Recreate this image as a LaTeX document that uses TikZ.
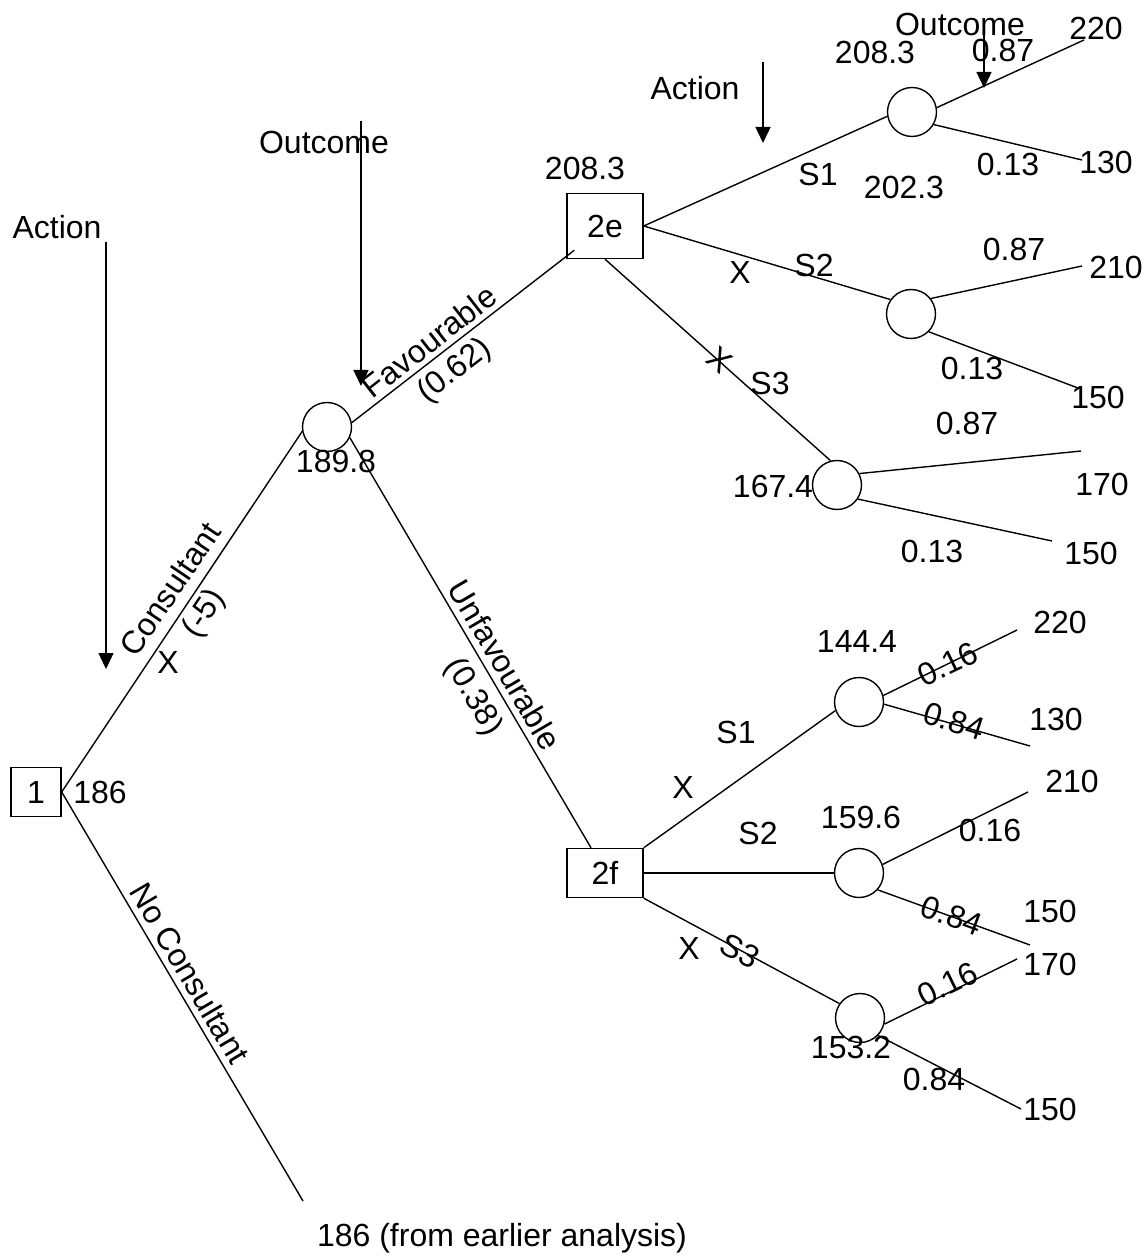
\documentclass[tikz,border=0pt]{standalone}
\usepackage{fontspec}
\setmainfont{Liberation Sans}
\usepackage{tikz}
\usetikzlibrary{calc, shapes}
\usetikzlibrary{positioning,arrows.meta}

\tikzset{
	decbox/.style={draw, rectangle, inner sep=0pt, minimum width=38pt},
	chance/.style={draw, circle, inner sep=0pt, minimum size=24.5pt},
	lbl/.style={inner sep=0pt},
	pointer/.style={-{Triangle[length=8pt,width=7.5pt]}},
}

\begin{document}
\begin{tikzpicture}[x=0.5pt, y=-0.5pt, line width=0.7pt,
	font=\fontsize{16}{19}\selectfont]
\useasboundingbox (0,0) rectangle (1145,1256);

% decision and chance nodes
\node[decbox, minimum width=25pt, minimum height=24.5pt] (d1) at (36,792) {1};
\node[chance] (c0) at (327,427) {};
\node[decbox, minimum height=32.5pt] (d2e) at (605,226) {2e};
\node[decbox, minimum height=24.5pt] (d2f) at (605,873) {2f};
\node[chance] (s1) at (912,112) {};
\node[chance] (s2) at (911,314) {};
\node[chance] (s3) at (837,485) {};
\node[chance] (u1) at (859,702) {};
\node[chance] (u2) at (859,873) {};
\node[chance] (u3) at (860,1018) {};

% free ends
\coordinate (nc) at (303,1201);
\coordinate (s1a) at (1084,40);
\coordinate (s1b) at (1082,160);
\coordinate (s2a) at (1082,266);
\coordinate (s2b) at (1078,388);
\coordinate (s3a) at (1081,451);
\coordinate (s3b) at (1052,541);
\coordinate (u1a) at (1017,630);
\coordinate (u1b) at (1030,746);
\coordinate (u2a) at (1028,792);
\coordinate (u2b) at (1030,945);
\coordinate (u3a) at (1017,959);
\coordinate (u3b) at (1021,1109);

% stage markers
\node[lbl] (act1) at (57,227) {Action};
\node[lbl] (out1) at (324,142) {Outcome};
\node[lbl] (act2) at (695,88) {Action};
\node[lbl] (out2) at (960,24) {Outcome};
\coordinate (act1a) at (106,242);
\coordinate (act1b) at (106,669);
\coordinate (out1a) at (361,121);
\coordinate (out1b) at (361,386);
\coordinate (act2a) at (763,62);
\coordinate (act2b) at (763,143);
\coordinate (out2a) at (984,25);
\coordinate (out2b) at (984,88);
\draw[pointer] (act1a) -- (act1b);
\draw[pointer] (out1a) -- (out1b);
\draw[pointer] (act2a) -- (act2b);
\draw[pointer] (out2a) -- (out2b);

% first stage
\draw (d1.east) -- (c0.190);
\draw (d1.east) -- (nc);
\draw (c0.10) -- ($(d2e.south west)+(8,-9)$);
\draw (c0.-25) -- ([xshift=-7pt]d2f.north);

\node[lbl] at (100,792) {186};
\node[lbl] at (336,461) {189.8};
\node[lbl, rotate=56] at (170,589) {Consultant};
\node[lbl, rotate=56] at (205,614) {(-5)};
\node[lbl] at (168,662) {X};
\node[lbl, rotate=-59.5] at (190,973) {No Consultant};
\node[lbl] at (502,1238) {186 (from earlier analysis)};
\node[lbl, rotate=38] at (429,341) {Favourable};
\node[lbl, rotate=38] at (455,371) {(0.62)};
\node[lbl, rotate=-59.5] at (505,665) {Unfavourable};
\node[lbl, rotate=-59.5] at (473,697) {(0.38)};

% favourable branch
\draw (d2e.east) -- (s1.190);
\draw (d2e.east) -- (s2.145);
\draw (d2e.south) -- (s3.105);
\draw (s1.10) -- (s1a);
\draw (s1.-30) -- (s1b);
\draw (s2.38) -- (s2a);
\draw (s2.-45) -- (s2b);
\draw (s3.27) -- (s3a);
\draw (s3.-34) -- (s3b);

\node[lbl] at (585,168) {208.3};
\node[lbl] at (875,52) {208.3};
\node[lbl] at (1003,50) {0.87};
\node[lbl] at (1096,28) {220};
\node[lbl] at (1008,164) {0.13};
\node[lbl] at (1106,162) {130};
\node[lbl] at (818,174) {S1};
\node[lbl] at (904,187) {202.3};
\node[lbl] at (740,272) {X};
\node[lbl] at (814,265) {S2};
\node[lbl] at (1014,249) {0.87};
\node[lbl] at (1116,267) {210};
\node[lbl] at (972,368) {0.13};
\node[lbl] at (1098,397) {150};
\node[lbl, rotate=-40] at (720,360) {X};
\node[lbl] at (770,383) {S3};
\node[lbl] at (967,423) {0.87};
\node[lbl] at (773,486) {167.4};
\node[lbl] at (1102,484) {170};
\node[lbl] at (932,551) {0.13};
\node[lbl] at (1091,553) {150};

% unfavourable branch
\draw (d2f.north east) -- (u1.200);
\draw (d2f.east) -- (u2.west);
\draw (d2f.south east) -- (u3.145);
\draw (u1.15) -- (u1a);
\draw (u1.-5) -- (u1b);
\draw (u2.20) -- (u2a);
\draw (u2.-42) -- (u2b);
\draw (u3.-14) -- (u3a);
\draw (u3.-44) -- (u3b);

\node[lbl] at (857,641) {144.4};
\node[lbl] at (1060,622) {220};
\node[lbl, rotate=25.5] at (948,664) {0.16};
\node[lbl, rotate=-17.4] at (954,721) {0.84};
\node[lbl] at (1056,719) {130};
\node[lbl] at (736,732) {S1};
\node[lbl] at (683,787) {X};
\node[lbl] at (758,833) {S2};
\node[lbl] at (861,817) {159.6};
\node[lbl] at (1072,781) {210};
\node[lbl] at (990,830) {0.16};
\node[lbl, rotate=-20] at (952,916) {0.84};
\node[lbl] at (1050,911) {150};
\node[lbl] at (689,948) {X};
\node[lbl, rotate=-28] at (740,951) {S3};
\node[lbl] at (851,1047) {153.2};
\node[lbl] at (1050,964) {170};
\node[lbl, rotate=26] at (948,984) {0.16};
\node[lbl] at (934,1079) {0.84};
\node[lbl] at (1050,1109) {150};

\end{tikzpicture}
\end{document}
